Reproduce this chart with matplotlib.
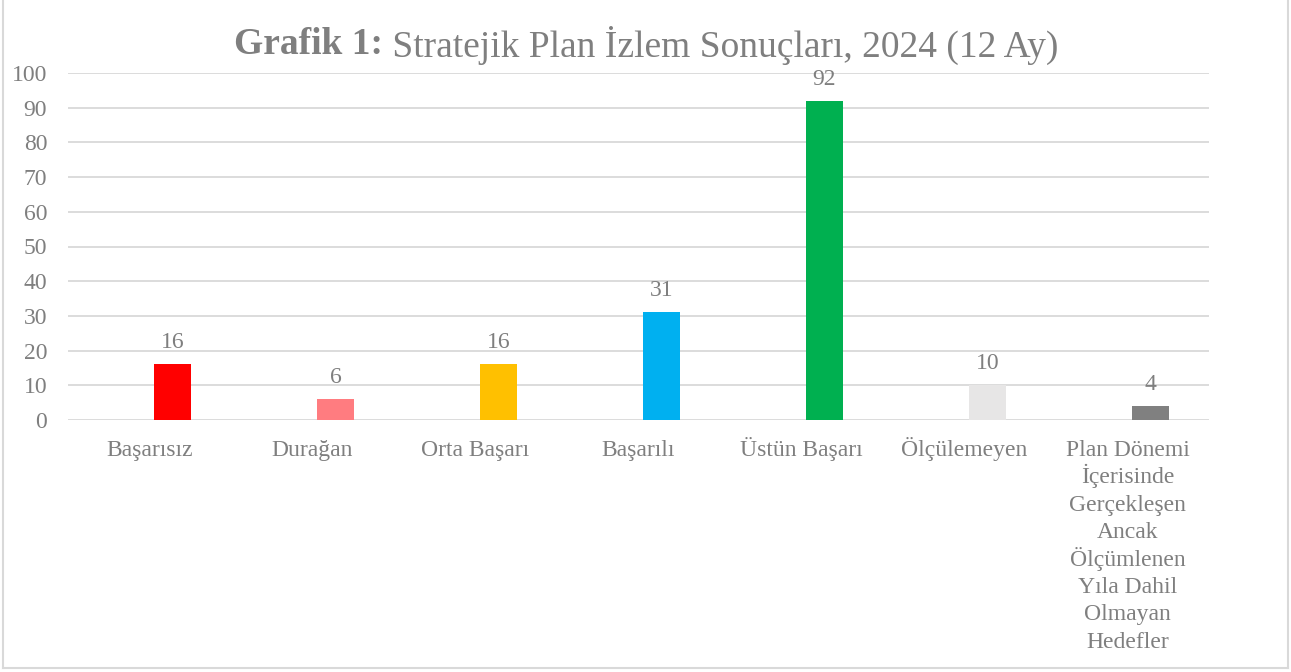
import matplotlib
matplotlib.use("Agg")
import matplotlib.pyplot as plt
import matplotlib.transforms as mtransforms
from matplotlib.lines import Line2D
import numpy as np

categories = ["Başarısız", "Durağan", "Orta Başarı", "Başarılı", "Üstün Başarı", "Ölçülemeyen",
              "Plan Dönemi\nİçerisinde\nGerçekleşen\nAncak\nÖlçümlenen\nYıla Dahil\nOlmayan\nHedefler"]
values = [16, 6, 16, 31, 92, 10, 4]
colors = ["#FF0000", "#FF7C80", "#FFC000", "#00B0F0", "#00B050", "#E7E6E6", "#808080"]
yticks = [0, 10, 20, 30, 40, 50, 60, 70, 80, 90, 100]

W, H = 1291, 672
plt.rcParams['font.family'] = ['Liberation Serif', 'DejaVu Serif']
txt = "#7F7F7F"

fig = plt.figure(figsize=(W/100, H/100), dpi=100)
ax = fig.add_axes([68/W, (H-420)/H, (1209-68)/W, (420-73)/H])

x = np.arange(len(categories))
offset = 23/163
bw = 37/163
ax.bar(x + offset, values, width=bw, color=colors, zorder=3)
for xi, v in zip(x, values):
    ax.annotate(str(v), (xi + offset, v), xytext=(0, 8), textcoords="offset points",
                ha="center", va="bottom", fontsize=17, color=txt)

ax.set_xlim(-0.5, len(categories) - 0.5)
ax.set_ylim(0, 100)
ax.set_yticks(yticks)
ax.set_xticks(x)
ax.set_xticklabels([""] * len(categories))
ax.tick_params(axis='both', length=0, labelsize=17, colors=txt)
ax.tick_params(axis='y', pad=15)
ax.grid(axis='y', color="#D9D9D9", linewidth=1.3, zorder=0)
for s in ax.spines.values():
    s.set_visible(False)

# category labels, each line baseline-aligned
base = ax.get_xaxis_transform()
for xi, cat in zip(x, categories):
    for k, line in enumerate(cat.split("\n")):
        tr = mtransforms.offset_copy(base, fig=fig, y=-(36 + 27.4 * k), units='dots')
        ax.text(xi, 0, line, transform=tr, ha='center', va='baseline', fontsize=17, color=txt)

t1 = "Grafik 1:"
t2 = " Stratejik Plan İzlem Sonuçları, 2024 (12 Ay)"
r = fig.canvas.get_renderer()
a = fig.text(0, 0, t1, fontsize=27, fontweight='bold', color=txt)
b = fig.text(0, 0, t2, fontsize=27, color=txt)
wa = a.get_window_extent(r).width
wb = b.get_window_extent(r).width
x0 = (W - wa - wb) / 2 + 1
yy = (H - 45) / H
a.set_position((x0 / W, yy)); a.set_va('center')
b.set_position(((x0 + wa) / W, yy)); b.set_va('center')

bc = "#D9D9D9"
fig.add_artist(Line2D([3/W, 3/W], [(H-668)/H, 1], color=bc, lw=1.5, transform=fig.transFigure))
fig.add_artist(Line2D([1288/W, 1288/W], [(H-668)/H, 1], color=bc, lw=1.5, transform=fig.transFigure))
fig.add_artist(Line2D([3/W, 1288/W], [(H-668)/H, (H-668)/H], color=bc, lw=1.5, transform=fig.transFigure))

fig.savefig("out.png", dpi=100)
